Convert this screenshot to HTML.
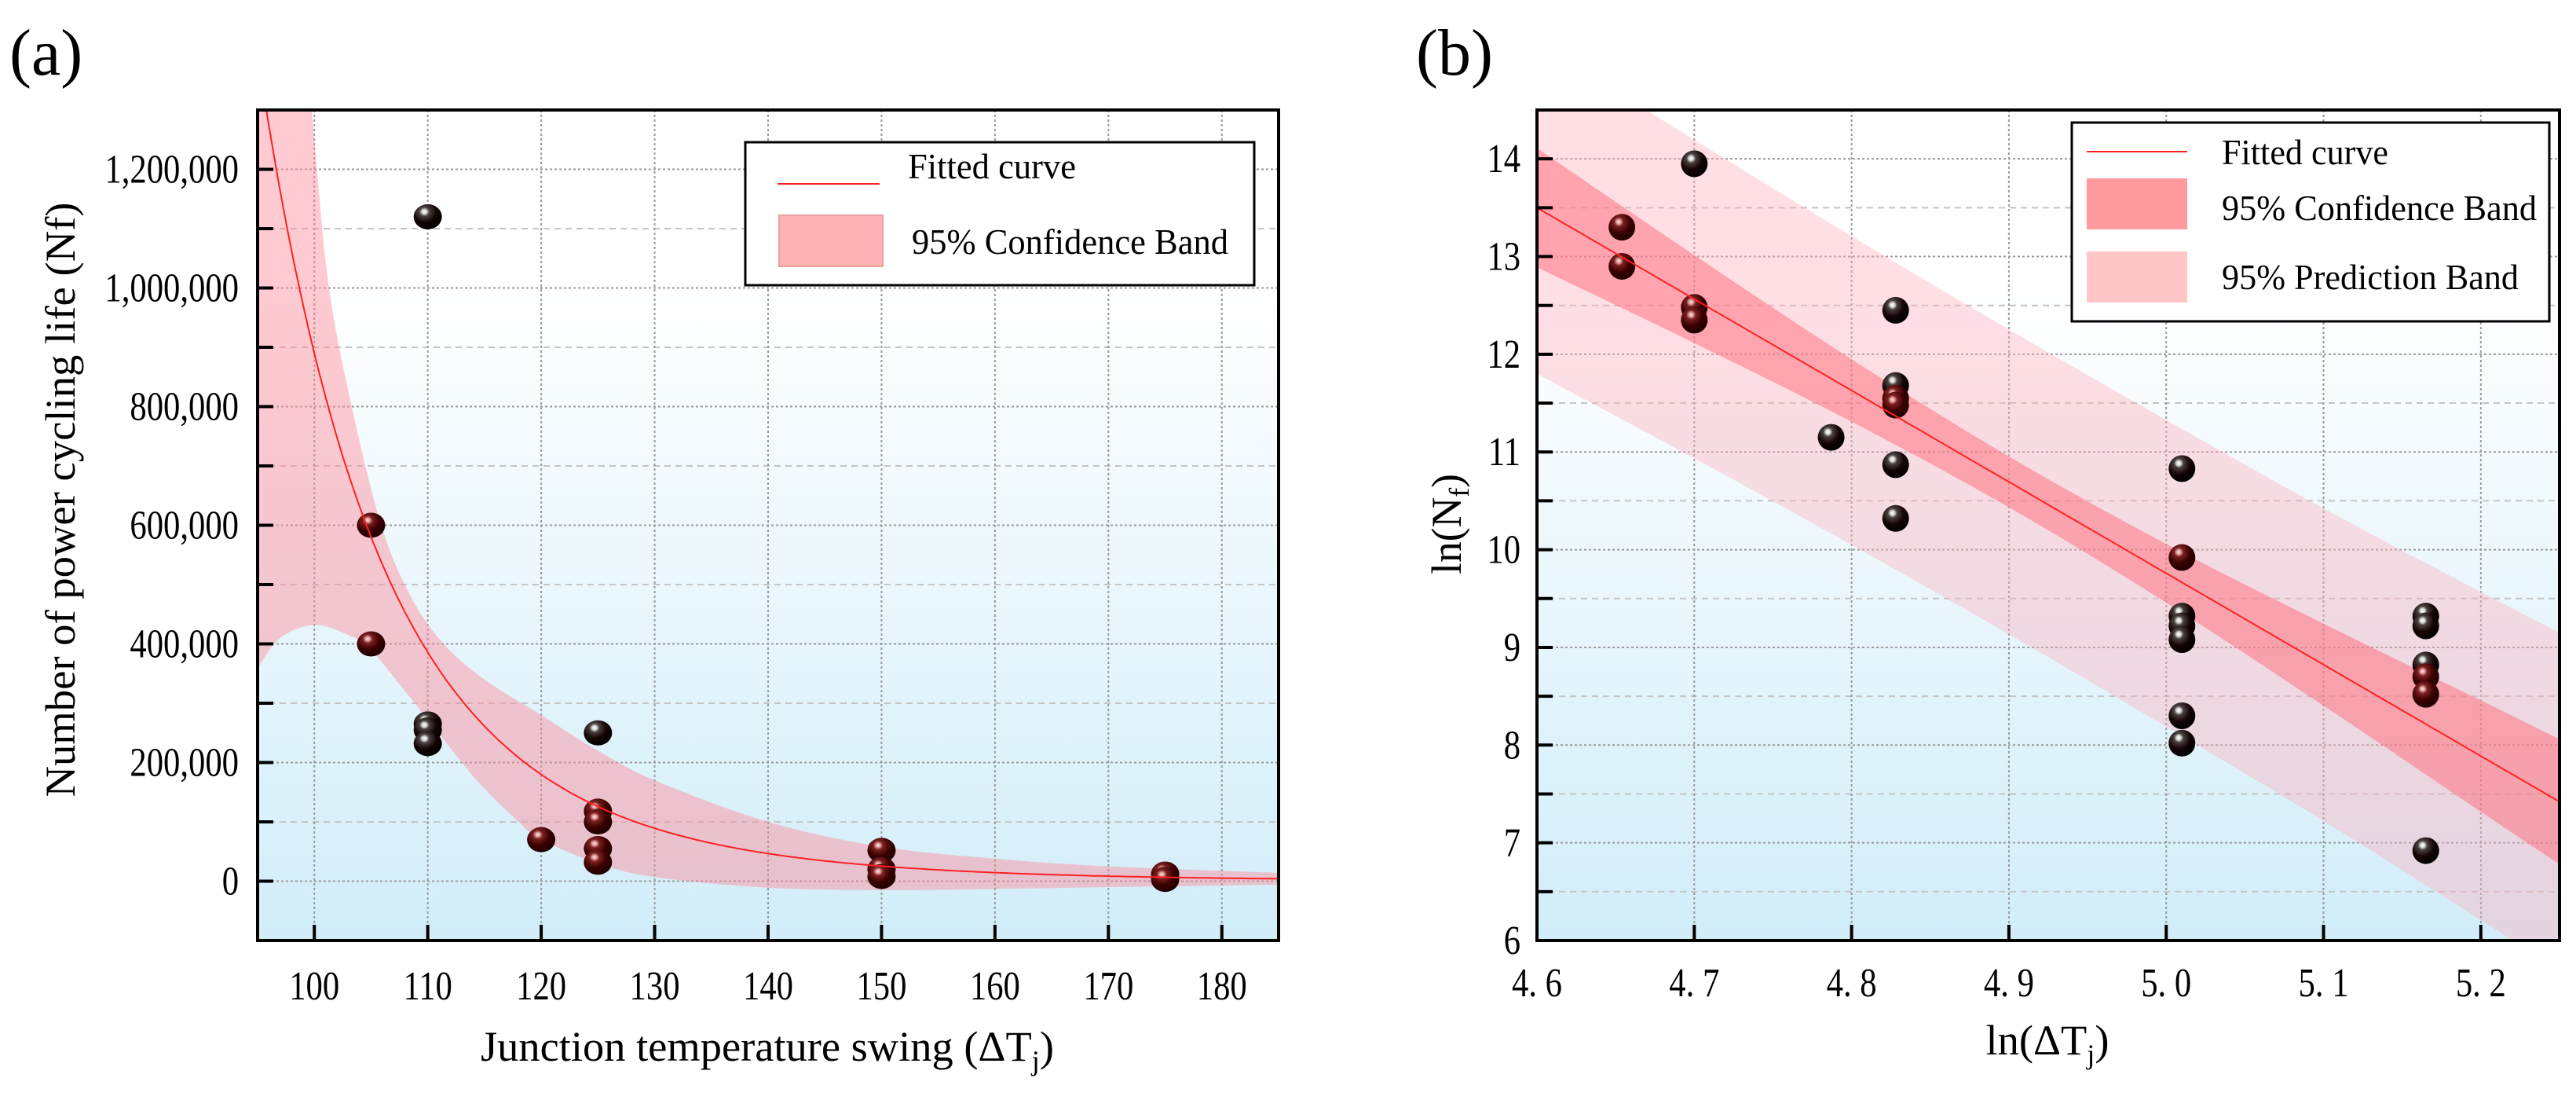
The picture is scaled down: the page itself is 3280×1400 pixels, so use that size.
<!DOCTYPE html>
<html><head><meta charset="utf-8"><style>
html,body{margin:0;padding:0;background:#fff;}
svg text{font-family:"Liberation Serif",serif;fill:#000;}
</style></head><body>
<svg id="fig" width="3280" height="1395" viewBox="0 0 3280 1395" xmlns="http://www.w3.org/2000/svg" font-family="Liberation Serif, serif">
<defs>
<linearGradient id="bgL" x1="0" y1="0" x2="0" y2="1"><stop offset="0" stop-color="#fff"/><stop offset="0.22" stop-color="#fff"/><stop offset="1" stop-color="#d1edf9"/></linearGradient>
<linearGradient id="bgR" x1="0" y1="0" x2="0" y2="1"><stop offset="0" stop-color="#fff"/><stop offset="0.22" stop-color="#fff"/><stop offset="1" stop-color="#d1edf9"/></linearGradient>
<radialGradient id="ball" cx="0.38" cy="0.3" r="0.7"><stop offset="0" stop-color="#fff"/><stop offset="0.12" stop-color="#d8d8d8"/><stop offset="0.25" stop-color="#4a4040"/><stop offset="0.6" stop-color="#140404"/><stop offset="1" stop-color="#000"/></radialGradient>
<radialGradient id="ballR" cx="0.38" cy="0.3" r="0.7"><stop offset="0" stop-color="#ffe8e8"/><stop offset="0.12" stop-color="#e09a9a"/><stop offset="0.25" stop-color="#7a2020"/><stop offset="0.6" stop-color="#3a0000"/><stop offset="1" stop-color="#200000"/></radialGradient>
<clipPath id="clipL"><rect x="328" y="140" width="1300" height="1057"/></clipPath>
<clipPath id="clipR"><rect x="1957" y="140" width="1302" height="1057"/></clipPath>
</defs>
<g id="left"></g>
<g id="right"></g>
<g id="annot" font-family="Liberation Serif, serif">
<text x="12" y="95" font-size="84">(a)</text>
<text x="1803" y="95" font-size="84">(b)</text>
<text class="fit" data-w="730" x="977" y="1350" font-size="54" text-anchor="middle">Junction temperature swing (ΔT<tspan font-size="36" dy="12">j</tspan><tspan dy="-12">)</tspan></text>
<text class="fit" data-w="757" transform="translate(95,636) rotate(-90)" font-size="54" text-anchor="middle">Number of power cycling life (Nf)</text>
<text class="fit" data-w="157" x="2607" y="1342" font-size="54" text-anchor="middle">ln(ΔT<tspan font-size="36" dy="12">j</tspan><tspan dy="-12">)</tspan></text>
<text class="fit" data-w="128" transform="translate(1860,667) rotate(-90)" font-size="54" text-anchor="middle">ln(N<tspan font-size="36" dy="10">f</tspan><tspan dy="-10">)</tspan></text>
<g>
<rect x="949" y="181" width="648" height="182" fill="#fff" stroke="#000" stroke-width="3"/>
<line x1="990" y1="234" x2="1120" y2="234" stroke="#ff2020" stroke-width="2"/>
<text class="fit" data-w="214" x="1156" y="227" font-size="46">Fitted curve</text>
<rect x="992" y="274" width="132" height="65" fill="#ffb3b3" stroke="#e9a0a0" stroke-width="2"/>
<text class="fit" data-w="403" x="1161" y="323" font-size="46">95% Confidence Band</text>
</g>
<g>
<rect x="2638" y="156" width="608" height="253" fill="#fff" stroke="#000" stroke-width="3"/>
<line x1="2657" y1="193" x2="2785" y2="193" stroke="#ff2020" stroke-width="2"/>
<text class="fit" data-w="212" x="2829" y="209" font-size="46">Fitted curve</text>
<rect x="2657" y="227" width="128" height="65" fill="#ff9a9e"/>
<text class="fit" data-w="401" x="2829" y="280" font-size="46">95% Confidence Band</text>
<rect x="2657" y="320" width="128" height="65" fill="#ffc6c8"/>
<text class="fit" data-w="378" x="2829" y="368" font-size="46">95% Prediction Band</text>
</g>
</g>
</svg>
<script>
// ---------- Chart (a) data ----------
const aX = [105,105,110,110,110,110,120,125,125,125,125,125,150,150,150,175,175];
const aY = [600000,400000,1120000,265000,255000,232000,70000,250000,118000,100000,55000,32000,52000,20000,8000,12000,3000];
const aFitCoef = 890000;
const aFitExp = -8.77;
const aBandT = [95,98,100,101.3,103.3,105.9,108.5,111.4,115,120,125,130,140,150,160,170,185];
const aBandUpper = [2600000,1700000,1250000,1000000,800000,600000,480000,400000,340000,280000,220000,170000,100000,58000,38000,25000,14000];
const aBandLowerT = [95,97,100,103,105,108,110,113,115,118,120,125,130,140,150,160,170,185];
const aBandLower = [359000,410000,432000,415000,390000,320000,273000,200000,156000,100000,70000,30000,7000,-11000,-15000,-13000,-10000,-6000];
const aXTicks = [100,110,120,130,140,150,160,170,180];
const aYTicks = [0,200000,400000,600000,800000,1000000,1200000];
const aYTickLabels = ["0","200,000","400,000","600,000","800,000","1,000,000","1,200,000"];
// ---------- Chart (b) data ----------
const bX = [4.654,4.654,4.70,4.70,4.70,4.787,4.828,4.828,4.828,4.828,4.828,4.828,5.01,5.01,5.01,5.01,5.01,5.01,5.01,5.165,5.165,5.165,5.165,5.165,5.165];
const bY = [13.3,12.9,13.95,12.48,12.35,11.15,12.45,11.68,11.55,11.48,10.87,10.32,10.83,9.92,9.32,9.22,9.08,8.3,8.02,9.32,9.22,8.82,8.7,8.52,6.92];
const bFitStart = [4.6,13.5];
const bFitEnd = [5.25,7.42];
const bBandX = [4.6,4.7,4.8,4.9,5.0,5.1,5.2,5.25];
const bConfHW = [0.61,0.45,0.32,0.26,0.3,0.42,0.57,0.64];
const bPredHW = [1.7,1.63,1.58,1.56,1.57,1.6,1.68,1.73];
const bXTicks = [4.6,4.7,4.8,4.9,5.0,5.1,5.2];
const bXTickLabels = ["4. 6","4. 7","4. 8","4. 9","5. 0","5. 1","5. 2"];
const bYTicks = [6,7,8,9,10,11,12,13,14];

const NS="http://www.w3.org/2000/svg";
function mk(parent,tag,attrs,text){const e=document.createElementNS(NS,tag);for(const k in attrs)e.setAttribute(k,attrs[k]);if(text!==undefined)e.textContent=text;parent.appendChild(e);return e;}
function squeeze(t,f){try{const w=t.getComputedTextLength();t.setAttribute('textLength',(w*f).toFixed(1));t.setAttribute('lengthAdjust','spacingAndGlyphs');}catch(e){}}
const LX=v=>328+(v-95)/90*1300, LY=v=>1197-(v+100000)/1400000*1057;
const RX=v=>1957+(v-4.6)/0.65*1302, RY=v=>1197-(v-6)/8.5*1057;
function smooth(pts){let d='M'+pts[0][0]+','+pts[0][1];for(let i=1;i<pts.length;i++){const p0=pts[Math.max(0,i-2)],p1=pts[i-1],p2=pts[i],p3=pts[Math.min(pts.length-1,i+1)];const c1=[p1[0]+(p2[0]-p0[0])/6,p1[1]+(p2[1]-p0[1])/6],c2=[p2[0]-(p3[0]-p1[0])/6,p2[1]-(p3[1]-p1[1])/6];d+=' C'+c1+' '+c2+' '+p2;}return d;}
function inBand(path,x,y){try{const p=document.getElementById('fig').createSVGPoint();p.x=x;p.y=y;return path.isPointInFill(p);}catch(e){return false;}}

// ===== Chart (a) =====
const gL=document.getElementById('left');
let bg=mk(gL,'rect',{x:328,y:140,width:1300,height:1057,fill:'url(#bgL)'});


const gridL=mk(gL,'g',{});


for(let v=-100000;v<=1300000;v+=100000){const y=LY(v);const major=v%200000===0;mk(gridL,'line',{x1:328,x2:1628,y1:y,y2:y,stroke:major?'#9a9a9a':'#c4c4c4','stroke-width':2,'stroke-dasharray':major?'3 3':'8 6'});}
aXTicks.forEach(v=>{const x=LX(v);mk(gridL,'line',{x1:x,x2:x,y1:140,y2:1197,stroke:'#9a9a9a','stroke-width':2,'stroke-dasharray':'3 3'});});
let up=aBandT.map((t,i)=>[LX(t),LY(aBandUpper[i])]);
let lo=aBandLowerT.map((t,i)=>[LX(t),LY(aBandLower[i])]).reverse();
const bandL=mk(gL,'path',{d:smooth(up)+' L'+lo[0]+' '+smooth(lo).slice(1)+' Z',fill:'#ff8a9a','fill-opacity':0.45,'clip-path':'url(#clipL)'});


let fd='';for(let t=95;t<=185;t+=0.25){const y=LY(aFitCoef*Math.pow(t/100,aFitExp));fd+=(fd?' L':'M')+LX(t).toFixed(1)+','+y.toFixed(1);}
const ptsL=mk(gL,'g',{'clip-path':'url(#clipL)'});


aX.forEach((t,i)=>{const cx=LX(t),cy=LY(aY[i]);const c=mk(ptsL,'ellipse',{cx:cx,cy:cy,rx:18,ry:16,fill:inBand(bandL,cx,cy)?'url(#ballR)':'url(#ball)'});

});
const fitL=mk(gL,'path',{d:fd,fill:'none',stroke:'#ff2020','stroke-width':2,'clip-path':'url(#clipL)'});


const axL=mk(gL,'g',{});


mk(axL,'rect',{x:328,y:140,width:1300,height:1057,fill:'none',stroke:'#000','stroke-width':4});
for(let v=0;v<=1200000;v+=100000){const y=LY(v);mk(axL,'line',{x1:328,x2:348,y1:y,y2:y,stroke:'#000','stroke-width':4});}
aXTicks.forEach(v=>{const x=LX(v);mk(axL,'line',{x1:x,x2:x,y1:1197,y2:1177,stroke:'#000','stroke-width':4});});
aXTicks.forEach(v=>{const t=mk(axL,'text',{x:LX(v),y:1272,'font-size':52,'text-anchor':'middle','font-family':'Liberation Serif, serif'},String(v));


squeeze(t,0.82);});
aYTicks.forEach((v,i)=>{const t=mk(axL,'text',{x:304,y:LY(v)+17,'font-size':52,'text-anchor':'end','font-family':'Liberation Serif, serif'},aYTickLabels[i]);


squeeze(t,0.82);});

// ===== Chart (b) =====
const gR=document.getElementById('right');
bg=mk(gR,'rect',{x:1957,y:140,width:1302,height:1057,fill:'url(#bgR)'});


const gridR=mk(gR,'g',{});


for(let v=6;v<=14.5;v+=0.5){const y=RY(v);const major=v%1===0;mk(gridR,'line',{x1:1957,x2:3259,y1:y,y2:y,stroke:major?'#9a9a9a':'#c4c4c4','stroke-width':2,'stroke-dasharray':major?'3 3':'8 6'});}
bXTicks.forEach(v=>{const x=RX(v);mk(gridR,'line',{x1:x,x2:x,y1:140,y2:1197,stroke:'#9a9a9a','stroke-width':2,'stroke-dasharray':'3 3'});});
const fitAt=x=>bFitStart[1]+(bFitEnd[1]-bFitStart[1])*(x-bFitStart[0])/(bFitEnd[0]-bFitStart[0]);
function bandPath(hw){const u=bBandX.map((x,i)=>[RX(x),RY(fitAt(x)+hw[i])]);const l=bBandX.map((x,i)=>[RX(x),RY(fitAt(x)-hw[i])]).reverse();return smooth(u)+' L'+l[0]+' '+smooth(l).slice(1)+' Z';}
const pred=mk(gR,'path',{d:bandPath(bPredHW),fill:'#ffb0bc','fill-opacity':0.4,'clip-path':'url(#clipR)'});


const conf=mk(gR,'path',{d:bandPath(bConfHW),fill:'#ff6a78','fill-opacity':0.5,'clip-path':'url(#clipR)'});


const ptsR=mk(gR,'g',{'clip-path':'url(#clipR)'});


bX.forEach((x,i)=>{const cx=RX(x),cy=RY(bY[i]);const c=mk(ptsR,'ellipse',{cx:cx,cy:cy,rx:17,ry:17,fill:inBand(conf,cx,cy)?'url(#ballR)':'url(#ball)'});

});
const fitR=mk(gR,'line',{x1:RX(bFitStart[0]),y1:RY(bFitStart[1]),x2:RX(bFitEnd[0]),y2:RY(bFitEnd[1]),stroke:'#ff2020','stroke-width':2,'clip-path':'url(#clipR)'});


const axR=mk(gR,'g',{});


mk(axR,'rect',{x:1957,y:140,width:1302,height:1057,fill:'none',stroke:'#000','stroke-width':4});
for(let v=6;v<=14.5;v+=0.5){const y=RY(v);mk(axR,'line',{x1:1957,x2:1977,y1:y,y2:y,stroke:'#000','stroke-width':4});}
bXTicks.forEach(v=>{const x=RX(v);mk(axR,'line',{x1:x,x2:x,y1:1197,y2:1177,stroke:'#000','stroke-width':4});});
bXTicks.forEach((v,i)=>{const t=mk(axR,'text',{x:RX(v),y:1268,'font-size':52,'text-anchor':'middle','font-family':'Liberation Serif, serif'},bXTickLabels[i]);


squeeze(t,0.82);});
bYTicks.forEach(v=>{const t=mk(axR,'text',{x:1936,y:RY(v)+17,'font-size':52,'text-anchor':'end','font-family':'Liberation Serif, serif'},String(v));


squeeze(t,0.82);});

document.querySelectorAll('text.fit').forEach(t=>{t.setAttribute('textLength',t.getAttribute('data-w'));t.setAttribute('lengthAdjust','spacingAndGlyphs');});
</script>
</body></html>
